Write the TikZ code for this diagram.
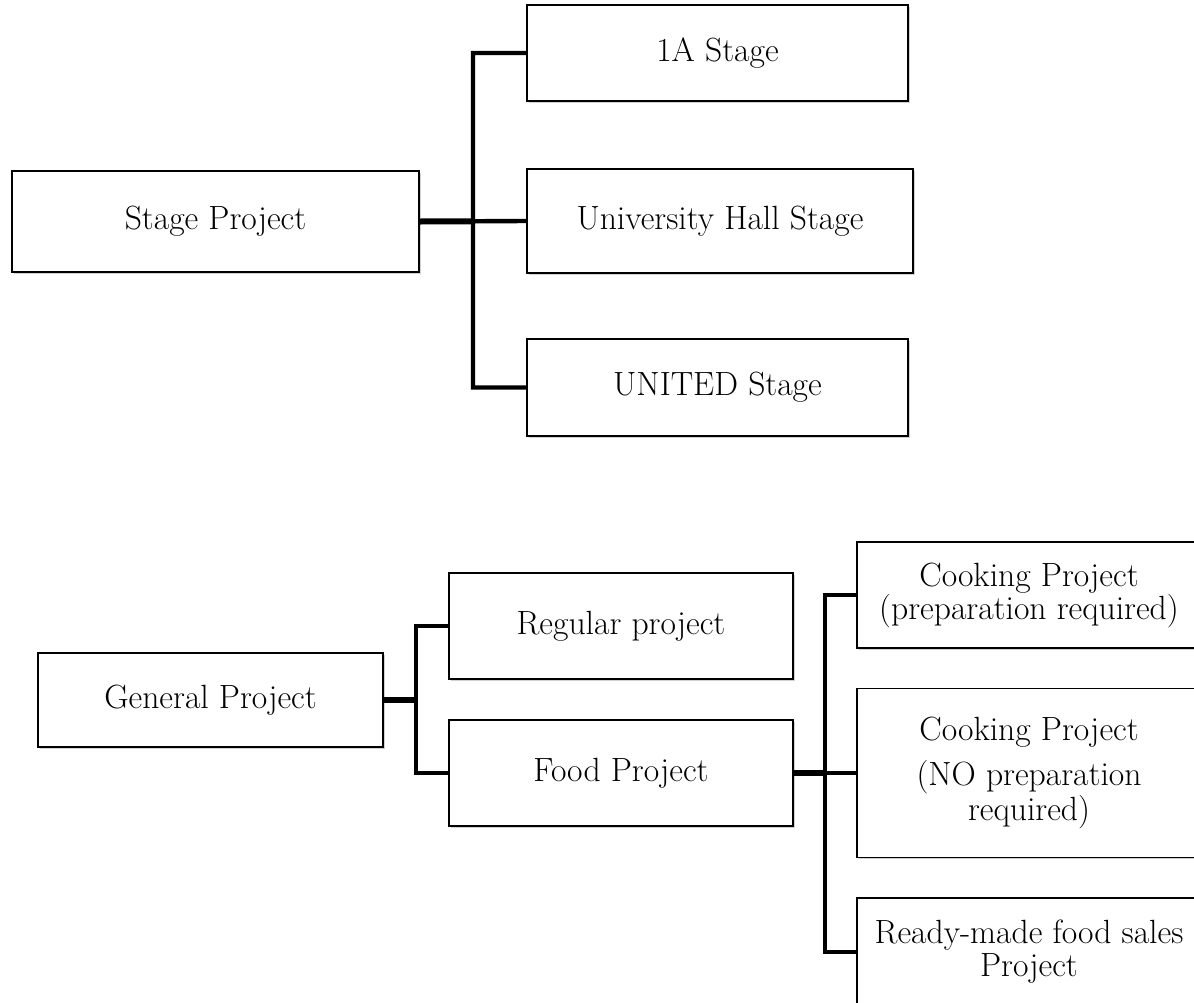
\documentclass[tikz,border=0pt]{standalone}
\usepackage{tikz}
\usetikzlibrary{calc,shadows}

\begin{document}
\begin{tikzpicture}[x=0.5pt,y=-0.5pt,box/.style={draw, line width=0.7pt, fill=white, align=center, inner sep=0pt, font=\fontsize{16.8}{16.5}\selectfont, drop shadow={shadow xshift=0.8pt, shadow yshift=-0.9pt, fill=black!30, opacity=0.6}},stub/.style={line width=3pt},bus/.style={line width=2.2pt, line join=miter}]
\useasboundingbox (0,0) rectangle (1194,1002);
\begin{scope}
\clip (0,0) rectangle (1194,1002);
% stage tree
\node[box, minimum width=203.5pt, minimum height=50.5pt] (stage) at (215.5,221.5) {Stage Project};
\node[box, minimum width=190.5pt, minimum height=48pt] (a1) at (717.5,53) {1A Stage};
\node[box, minimum width=193pt, minimum height=52pt] (hall) at (720,221) {University Hall Stage};
\node[box, minimum width=190.5pt, minimum height=48.5pt] (united) at (717.5,387.5) {UNITED Stage};
\coordinate (sbus) at ($(stage.east)!.5!(hall.west)$);
\draw[stub] (stage.east) -- (sbus);
\draw[bus] (a1.west) -| (sbus) |- (united.west) (sbus) -- (hall.west);
% general tree
\node[box, minimum width=172.5pt, minimum height=47pt] (gen) at (210.5,700) {General Project};
\node[box, minimum width=172pt, minimum height=53pt] (reg) at (621,626) {Regular project};
\node[box, minimum width=172pt, minimum height=53pt] (food) at (621,773) {Food Project};
\coordinate (gbus) at ($(gen.east)!.5!(gen.east -| reg.west)$);
\draw[stub] (gen.east) -- (gbus);
\draw[bus] (reg.west) -| (gbus) |- (food.west);
% food tree
\node[box, minimum width=172pt, minimum height=53pt] (cook1) at (1029,595) {Cooking Project\\(preparation required)};
\node[box, minimum width=172pt, minimum height=84.5pt] (cook2) at (1029,773) {Cooking Project\\[6pt](NO preparation\\required)};
\node[box, minimum width=172pt, minimum height=54pt] (ready) at (1029,952) {Ready-made food sales\\Project};
\coordinate (fbus) at ($(food.east)!.5!(cook2.west)$);
\draw[stub] (food.east) -- (fbus);
\draw[bus] (cook1.west) -| (fbus) |- (ready.west) (fbus) -- (cook2.west);
\end{scope}
\end{tikzpicture}
\end{document}
